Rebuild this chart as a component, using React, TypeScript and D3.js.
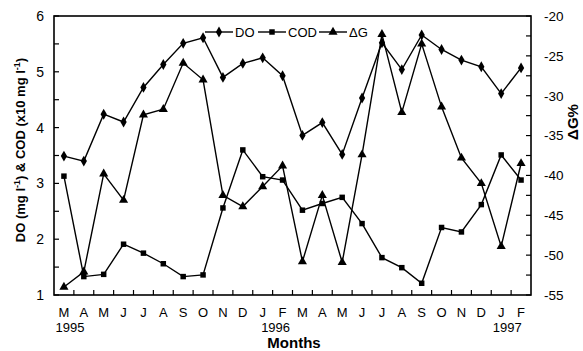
import * as d3 from "d3";

// month initials, Mar 1995 .. Feb 1997
const months = ["M", "A", "M", "J", "J", "A", "S", "O", "N", "D", "J", "F", "M", "A", "M", "J", "J", "A", "S", "O", "N", "D", "J", "F"];
const years = [
  { label: "1995", pos: 0.3 },
  { label: "1996", pos: 10.65 },
  { label: "1997", pos: 22.3 },
];

// DO (mg l-1)
const doVals = [3.49, 3.4, 4.24, 4.1, 4.72, 5.13, 5.51, 5.61, 4.9, 5.15, 5.25, 4.93, 3.86, 4.09, 3.52, 4.53, 5.52, 5.04, 5.66, 5.4, 5.21, 5.09, 4.61, 5.07];
// COD (x10 mg l-1)
const codVals = [3.13, 1.33, 1.37, 1.91, 1.75, 1.56, 1.33, 1.36, 2.56, 3.6, 3.12, 3.06, 2.52, 2.64, 2.75, 2.28, 1.67, 1.49, 1.21, 2.21, 2.13, 2.62, 3.51, 3.06];
// delta G %
const dgVals = [-54.0, -52.1, -39.8, -43.1, -32.4, -31.7, -25.9, -28.0, -42.5, -43.9, -41.4, -38.8, -50.8, -42.5, -50.9, -37.4, -22.3, -32.1, -23.5, -31.4, -37.8, -41.0, -48.9, -38.5];

const leftTicks = [1, 2, 3, 4, 5, 6];
const rightTicks = [-20, -25, -30, -35, -40, -45, -50, -55];

const W = 583;
const H = 351;
const m = { left: 54, right: 531, top: 16, bottom: 295 };
const font = "Arial, 'Liberation Sans', Helvetica, sans-serif";

export default function App() {
  const x = d3
    .scaleBand<number>()
    .domain(months.map((_, i) => i))
    .range([m.left, m.right])
    .padding(0);
  const xPos = d3.scaleLinear().domain([0, months.length]).range([m.left, m.right]);
  const yL = d3.scaleLinear().domain([1, 6]).range([m.bottom, m.top]);
  const yR = d3.scaleLinear().domain([-55, -20]).range([m.bottom, m.top]);
  const cx = (i: number) => (x(i) as number) + x.bandwidth() / 2;

  const lineL = d3.line<number>().x((_, i) => cx(i)).y((d) => yL(d));
  const lineR = d3.line<number>().x((_, i) => cx(i)).y((d) => yR(d));

  const diamond = d3.symbol().type(d3.symbolDiamond).size(34)() as string;
  const square = d3.symbol().type(d3.symbolSquare).size(30)() as string;
  const triangle = d3.symbol().type(d3.symbolTriangle).size(36)() as string;

  const leftMinor = d3.range(1, 6.01, 0.5);
  const rightMinor = d3.range(-55, -19.9, 2.5);
  const bottomTicks = d3.range(1, months.length);

  const legend = [
    { label: "DO", path: diamond, x0: 205 },
    { label: "COD", path: square, x0: 258 },
    { label: "\u0394G", path: triangle, x0: 319 },
  ];

  return (
    <svg
      width={W}
      height={H}
      style={{ position: "absolute", left: 0, top: 0, background: "#fff" }}
      fontFamily={font}
    >
      {/* frame */}
      <rect
        x={m.left}
        y={m.top}
        width={m.right - m.left}
        height={m.bottom - m.top}
        fill="none"
        stroke="#000"
        strokeWidth={1.6}
      />

      {/* left ticks */}
      {leftMinor.map((v) => (
        <line key={"lt" + v} x1={m.left} x2={m.left + 5} y1={yL(v)} y2={yL(v)} stroke="#000" strokeWidth={1.2} />
      ))}
      {leftTicks.map((v) => (
        <text key={"ll" + v} x={m.left - 10} y={yL(v)} dy="0.36em" textAnchor="end" fontSize={14}>
          {v}
        </text>
      ))}

      {/* right ticks */}
      {rightMinor.map((v) => (
        <line key={"rt" + v} x1={m.right - 5} x2={m.right} y1={yR(v)} y2={yR(v)} stroke="#000" strokeWidth={1.2} />
      ))}
      {rightTicks.map((v) => (
        <text key={"rl" + v} x={m.right + 13} y={yR(v)} dy="0.36em" textAnchor="start" fontSize={13.5}>
          {v}
        </text>
      ))}

      {/* bottom ticks */}
      {bottomTicks.map((i) => (
        <line key={"bt" + i} x1={xPos(i)} x2={xPos(i)} y1={m.bottom} y2={m.bottom - 5} stroke="#000" strokeWidth={1.2} />
      ))}
      {months.map((mo, i) => (
        <text key={"ml" + i} x={cx(i)} y={317} textAnchor="middle" fontSize={13}>
          {mo}
        </text>
      ))}
      {years.map((yr) => (
        <text key={yr.label} x={xPos(yr.pos + 0.5)} y={332} textAnchor="middle" fontSize={13}>
          {yr.label}
        </text>
      ))}

      {/* axis titles */}
      <text x={294} y={348} textAnchor="middle" fontSize={15} fontWeight="bold">
        Months
      </text>
      <text
        transform={`translate(25,150) rotate(-90)`}
        textAnchor="middle"
        fontSize={13}
        fontWeight="bold"
      >
        DO (mg l<tspan dy={-5} fontSize={9}>-1</tspan>
        <tspan dy={5}>) &amp; COD (x10 mg l</tspan>
        <tspan dy={-5} fontSize={9}>-1</tspan>
        <tspan dy={5}>)</tspan>
      </text>
      <text transform={`translate(578,122) rotate(-90)`} textAnchor="middle" fontSize={15} fontWeight="bold">
        {"\u0394G%"}
      </text>

      {/* series */}
      <path d={lineL(doVals) as string} fill="none" stroke="#000" strokeWidth={1.4} />
      <path d={lineL(codVals) as string} fill="none" stroke="#000" strokeWidth={1.4} />
      <path d={lineR(dgVals) as string} fill="none" stroke="#000" strokeWidth={1.4} />
      {doVals.map((v, i) => (
        <path key={"d" + i} d={diamond} transform={`translate(${cx(i)},${yL(v)})`} fill="#000" />
      ))}
      {codVals.map((v, i) => (
        <path key={"c" + i} d={square} transform={`translate(${cx(i)},${yL(v)})`} fill="#000" />
      ))}
      {dgVals.map((v, i) => (
        <path key={"g" + i} d={triangle} transform={`translate(${cx(i)},${yR(v)})`} fill="#000" />
      ))}

      {/* legend */}
      {legend.map((l) => (
        <g key={l.label} transform={`translate(${l.x0},32)`}>
          <line x1={0} x2={28} y1={0} y2={0} stroke="#000" strokeWidth={1.4} />
          <path d={l.path} transform="translate(14,0)" fill="#000" />
          <text x={30} y={0} dy="0.36em" fontSize={13}>
            {l.label}
          </text>
        </g>
      ))}
    </svg>
  );
}
